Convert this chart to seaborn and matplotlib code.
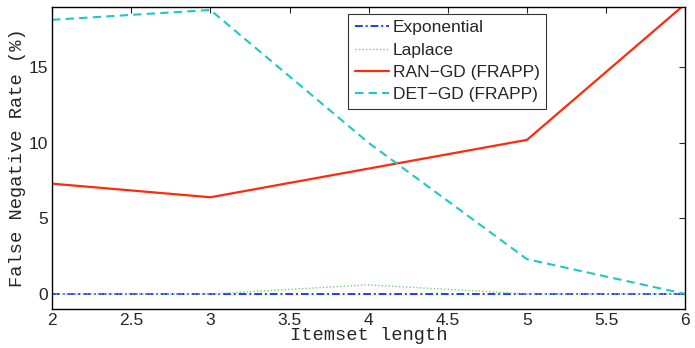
import numpy as np
import pandas as pd
import seaborn as sns
import matplotlib
matplotlib.use("Agg")
import matplotlib.pyplot as plt

itemset_length = [2, 3, 4, 5, 6]
exponential = [0, 0, 0, 0, 0]
laplace = [0, 0, 0.6, 0, 0]
ran_gd = [7.3, 6.4, 8.3, 10.2, 19.2]
det_gd = [18.15, 18.8, 10.0, 2.3, 0]

series = {
    "Exponential": exponential,
    "Laplace": laplace,
    "RAN\u2212GD (FRAPP)": ran_gd,
    "DET\u2212GD (FRAPP)": det_gd,
}
rows = []
for name, vals in series.items():
    for x, y in zip(itemset_length, vals):
        rows.append({"x": x, "y": y, "method": name})
df = pd.DataFrame(rows)

sns.set_style("white")
plt.rcParams["font.family"] = ["Liberation Sans", "DejaVu Sans"]

colors = ["#1a3cff", "#7ccf7c", "#ff2a0a", "#1ec8c8"]
styles = [(0, (4, 1.5, 1, 1.5)), (0, (1, 1.5)), "-", (0, (4, 2.5))]
widths = [1.4, 1.0, 1.6, 1.5]

fig = plt.figure(figsize=(6.95, 3.48), dpi=100)
ax = fig.add_axes([0.075, 0.112, 0.911, 0.868])

for (name, _), c, ls, lw in zip(series.items(), colors, styles, widths):
    sub = df[df["method"] == name]
    sns.lineplot(data=sub, x="x", y="y", ax=ax, color=c, linestyle=ls,
                 linewidth=lw, label=name)

ax.set_xlim(2, 6)
ax.set_ylim(-1, 19)
ax.set_xticks(np.arange(2, 6.01, 0.5))
ax.set_xticklabels(["2", "2.5", "3", "3.5", "4", "4.5", "5", "5.5", "6"])
ax.set_yticks([0, 5, 10, 15])
ax.tick_params(direction="in", top=True, right=True, labelsize=12.5, length=4, pad=3)
for s in ax.spines.values():
    s.set_color("black")
    s.set_linewidth(1.0)

ax.set_xlabel("Itemset length", family="Liberation Mono", fontsize=13.5, labelpad=-1)
ax.set_ylabel("False Negative Rate (%)", family="Liberation Mono", fontsize=13.5, labelpad=2)

leg = ax.legend(loc="upper left", bbox_to_anchor=(0.468, 0.977), fontsize=12.5,
                frameon=True, fancybox=False, edgecolor="black",
                handlelength=2.0, handletextpad=0.2, labelspacing=0.42,
                borderpad=0.35, borderaxespad=0)
leg.get_frame().set_linewidth(0.8)

fig.savefig("out.png", dpi=100)
